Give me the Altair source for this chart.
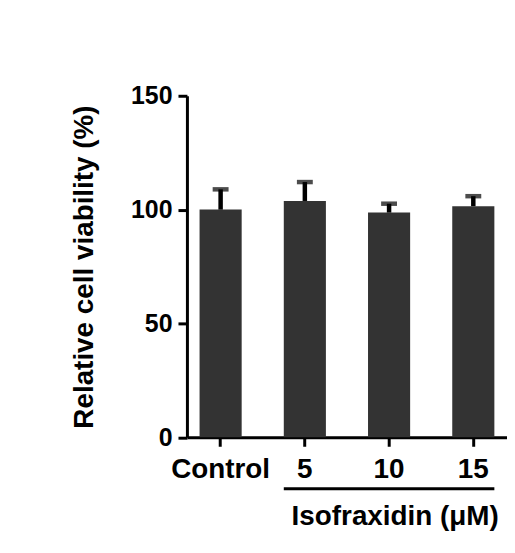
import altair as alt
import pandas as pd

categories = ["Control", "5", "10", "15"]
means = [100.0, 103.8, 98.7, 101.5]
errors = [8.9, 8.3, 3.9, 4.4]
y_ticks = [0, 50, 100, 150]
bracket_start = ["5"]
bracket_end = ["15"]

df = pd.DataFrame({"group": categories, "mean": means, "err": errors})
df["upper"] = df["mean"] + df["err"]
bracket = pd.DataFrame({"start": bracket_start, "end": bracket_end})

W, H = 322, 343.6
FONT = "Liberation Sans"

xscale = alt.Scale(domain=categories, paddingInner=0.5, paddingOuter=0.15)
yscale = alt.Scale(domain=[0, 150], nice=False)

x_axis = alt.Axis(
    title="Isofraxidin (μM)", labelAngle=0, labelFontSize=28, labelFontWeight="bold",
    labelColor="black", labelPadding=9, tickSize=9, tickWidth=3, tickColor="black",
    domainColor="black", domainWidth=3, titleFontSize=28, titleFontWeight="bold",
    titleColor="black", titleX=209, titleY=80, titleAlign="center", titleBaseline="middle",
    grid=False,
)
y_axis = alt.Axis(
    title="Relative cell viability (%)", values=y_ticks, labelFontSize=25,
    labelFontWeight="bold", labelColor="black", labelPadding=6, tickSize=9, tickWidth=3,
    tickColor="black", domainColor="black", domainWidth=3, titleFontSize=28,
    titleFontWeight="bold", titleColor="black", titleX=-103, titleBaseline="middle",
    grid=False,
)

bars = alt.Chart(df).mark_bar(color="#333333").encode(
    x=alt.X("group:N", scale=xscale, axis=x_axis, sort=categories),
    y=alt.Y("mean:Q", scale=yscale, axis=y_axis),
)
stems = alt.Chart(df).mark_rule(color="black", strokeWidth=4.5).encode(
    x=alt.X("group:N", scale=xscale, sort=categories),
    y=alt.Y("mean:Q", scale=yscale),
    y2="upper:Q",
)
caps = alt.Chart(df).mark_tick(color="black", thickness=4.5, size=16).encode(
    x=alt.X("group:N", scale=xscale, sort=categories),
    y=alt.Y("upper:Q", scale=yscale),
)
underline = alt.Chart(bracket).mark_rule(color="black", strokeWidth=3, clip=False).encode(
    x=alt.X("start:N", scale=xscale, bandPosition=0),
    x2=alt.X2("end:N", bandPosition=1),
    y=alt.value(395.3),
)

chart = alt.layer(bars, stems, caps, underline).properties(
    width=W, height=H,
    autosize=alt.AutoSizeParams(type="none"),
    padding={"left": 180, "top": 86.7, "right": 0, "bottom": 100},
).configure(font=FONT).configure_view(stroke=None)

chart.save("out.html", embed_options={"renderer": "svg", "actions": False})
